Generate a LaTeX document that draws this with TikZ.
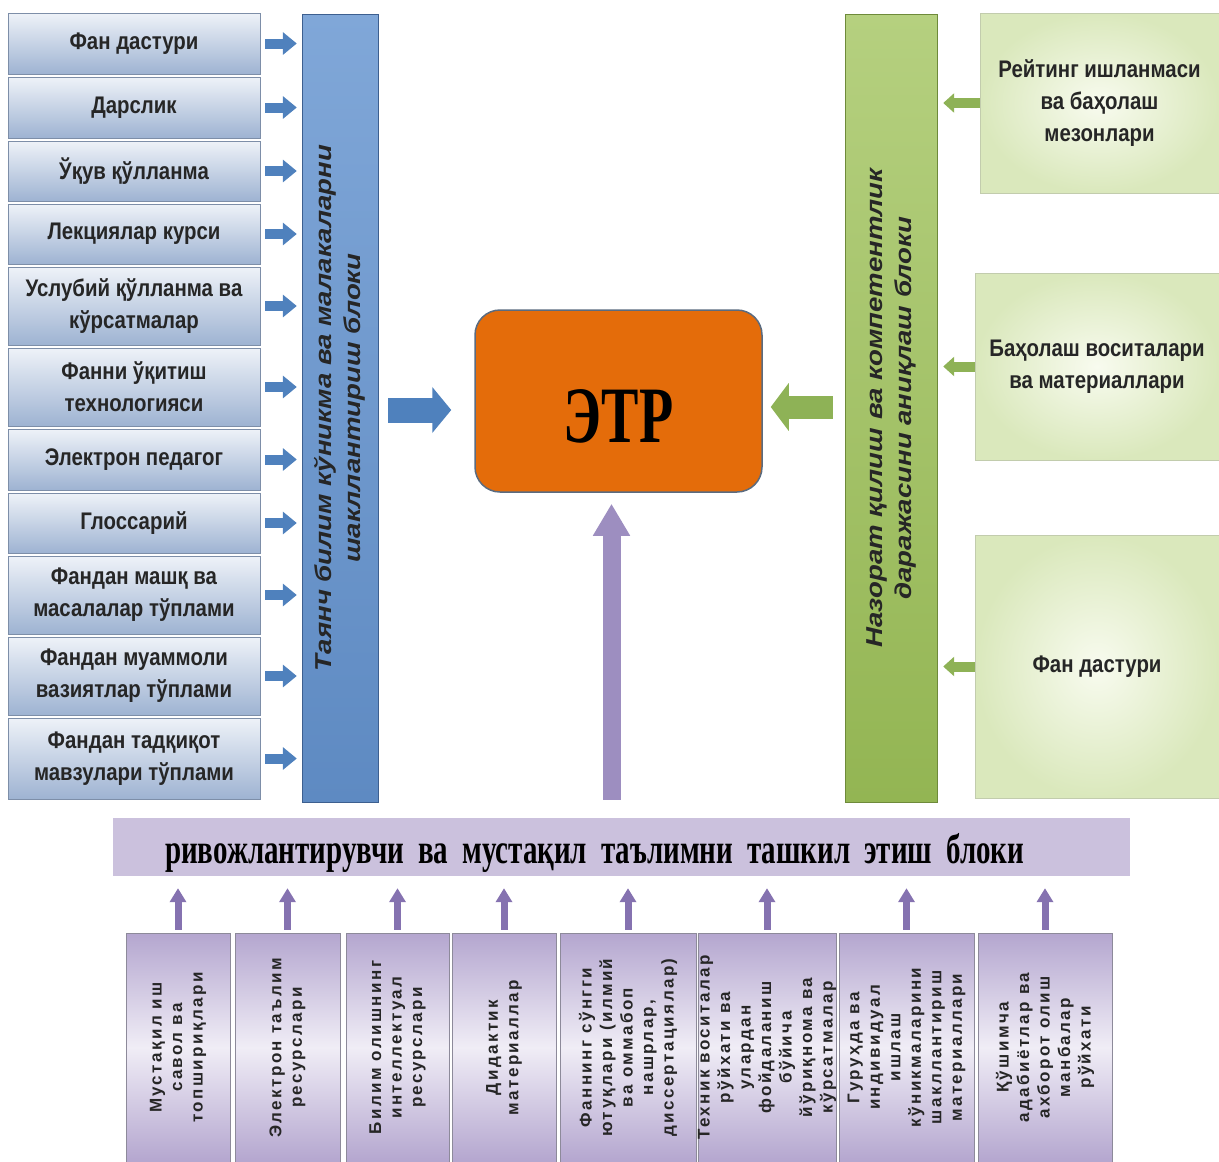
\documentclass[tikz,border=0pt]{standalone}
\usepackage{fontspec}
\setmainfont{Liberation Sans}
\newfontfamily\boxfont[FakeStretch=0.85]{Liberation Sans}
\newfontfamily\barfont[FakeStretch=1.2]{Liberation Sans}
\newfontfamily\smallfont[LetterSpace=14]{Liberation Sans}
\newfontfamily\titlefont[FakeStretch=0.7]{Liberation Serif}
\newfontfamily\blockfont[FakeStretch=0.69]{Liberation Serif}
\usetikzlibrary{arrows.meta}
\definecolor{srctop}{HTML}{EEF2F8}
\definecolor{srcbot}{HTML}{9EB3D2}
\definecolor{srcline}{HTML}{7D8EA8}
\definecolor{bluearr}{HTML}{4F81BD}
\definecolor{bbarlight}{HTML}{80A7D8}
\definecolor{bbardark}{HTML}{5E8AC2}
\definecolor{bbaredge}{HTML}{3D5F8F}
\definecolor{etrfill}{HTML}{E46C0A}
\definecolor{etredge}{HTML}{5A6B80}
\definecolor{gbarlight}{HTML}{B5D07F}
\definecolor{gbardark}{HTML}{93B553}
\definecolor{gbaredge}{HTML}{6E8A3A}
\definecolor{greenarr}{HTML}{8EB256}
\definecolor{ginner}{HTML}{F8FBEF}
\definecolor{gouter}{HTML}{DAE8BC}
\definecolor{gedge}{HTML}{C2CCAD}
\definecolor{blockfill}{HTML}{CBC1DD}
\definecolor{purplearr}{HTML}{8572B0}
\definecolor{resdark}{HTML}{B4A6CF}
\definecolor{reslight}{HTML}{F0EDF6}
\definecolor{resedge}{HTML}{8D8A9A}

\begin{document}
\begin{tikzpicture}[x=1pt,y=1pt,
    every node/.style={inner sep=0pt, align=center, text=black!85},
    srcbox/.style={minimum width=252pt, top color=srctop, bottom color=srcbot, draw=srcline,
        font=\boxfont\bfseries\fontsize{24}{32}\selectfont},
    evalbox/.style={inner color=ginner, outer color=gouter, draw=gedge,
        font=\boxfont\bfseries\fontsize{24}{32}\selectfont},
    resbox/.style={rotate=90, minimum width=229pt, top color=resdark, bottom color=resdark,
        middle color=reslight, draw=resedge, font=\smallfont\bfseries\fontsize{17}{20.5}\selectfont},
    vbar/.style={rotate=90, minimum width=788pt, font=\barfont\bfseries\itshape\fontsize{23}{29}\selectfont},
    bluesmall/.style={draw=bluearr, line width=10pt, -{Triangle[width=22pt,length=14pt]}, shorten <=5pt, shorten >=5pt},
    greensmall/.style={draw=greenarr, line width=10pt, -{Triangle[width=19pt,length=11pt]}, shorten <=0pt, shorten >=6pt},
    purplesmall/.style={draw=purplearr, line width=7pt, -{Triangle[width=16pt,length=14pt]}, shorten <=3pt, shorten >=12pt}]
    \useasboundingbox (0,0) rectangle (1219,-1162);
    \node[srcbox, minimum height=61pt] (s1) at (134,-43.5) {Фан дастури};
    \node[srcbox, minimum height=61pt] (s2) at (134,-107.5) {Дарслик};
    \node[srcbox, minimum height=60pt] (s3) at (134,-171) {Ўқув қўлланма};
    \node[srcbox, minimum height=60pt] (s4) at (134,-234) {Лекциялар курси};
    \node[srcbox, minimum height=78pt] (s5) at (134,-306) {Услубий қўлланма ва\\кўрсатмалар};
    \node[srcbox, minimum height=78pt] (s6) at (134,-387) {Фанни ўқитиш\\технологияси};
    \node[srcbox, minimum height=61pt] (s7) at (134,-459.5) {Электрон педагог};
    \node[srcbox, minimum height=60pt] (s8) at (134,-523) {Глоссарий};
    \node[srcbox, minimum height=78pt] (s9) at (134,-595) {Фандан машқ ва\\масалалар тўплами};
    \node[srcbox, minimum height=78pt] (s10) at (134,-676) {Фандан муаммоли\\вазиятлар тўплами};
    \node[srcbox, minimum height=81pt] (s11) at (134,-758.5) {Фандан тадқиқот\\мавзулари тўплами};
    \node[vbar, minimum height=76pt, top color=bbarlight, bottom color=bbardark, draw=bbaredge] (bbar) at (340,-408)
        {Таянч билим кўникма ва малакаларни\\шакллантириш блоки};
    \node[vbar, minimum height=92pt, top color=gbarlight, bottom color=gbardark, draw=gbaredge] (gbar) at (891,-408)
        {Назорат қилиш ва компетентлик\\даражасини аниқлаш блоки};
    \node[minimum width=287pt, minimum height=182pt, rounded corners=25pt, fill=etrfill, draw=etredge, line width=1.5pt,
        text height=83pt, font=\titlefont\bfseries\fontsize{80}{80}\selectfont, text=black] (etr) at (618.5,-401) {ЭТР};
    \node[evalbox, minimum width=239pt, minimum height=180pt] (e1) at (1099.5,-103) {Рейтинг ишланмаси\\ва баҳолаш\\мезонлари};
    \node[evalbox, minimum width=244pt, minimum height=187pt] (e2) at (1097,-366.5) {Баҳолаш воситалари\\ва материаллари};
    \node[evalbox, minimum width=244pt, minimum height=263pt] (e3) at (1097,-666.5) {Фан дастури};
    \node[minimum width=1017pt, minimum height=58pt, fill=blockfill, text width=913pt, align=left,
        text height=41pt, text depth=9pt, font=\blockfont\bfseries\fontsize{42}{42}\selectfont, text=black] (block) at (621.5,-847)
        {\mbox{ривожлантирувчи ва мустақил таълимни ташкил этиш блоки}};
    \node[resbox, minimum height=104pt] (r1) at (178,-1047.5) {Мустақил иш\\савол ва\\топшириқлари};
    \node[resbox, minimum height=105pt] (r2) at (287.5,-1047.5) {Электрон таълим\\ресурслари};
    \node[resbox, minimum height=103pt] (r3) at (397.5,-1047.5) {Билим олишнинг\\интеллектуал\\ресурслари};
    \node[resbox, minimum height=104pt] (r4) at (504,-1047.5) {Дидактик\\материаллар};
    \node[resbox, minimum height=136pt] (r5) at (628,-1047.5) {Фаннинг сўнгги\\ютуқлари (илмий\\ва оммабоп\\нашрлар,\\диссертациялар)};
    \node[resbox, minimum height=136pt] (r6) at (767,-1047.5) {Техник воситалар\\рўйхати ва\\улардан\\фойдаланиш\\бўйича\\йўриқнома ва\\кўрсатмалар};
    \node[resbox, minimum height=135pt] (r7) at (906.5,-1047.5) {Гуруҳда ва\\индивидуал\\ишлаш\\кўникмаларини\\шакллантириш\\материаллари};
    \node[resbox, minimum height=134pt] (r8) at (1045,-1047.5) {Қўшимча\\адабиётлар ва\\ахборот олиш\\манбалар\\рўйхати};
    \draw[bluesmall] (s1.east) -- (s1.east -| bbar.north);
    \draw[bluesmall] (s2.east) -- (s2.east -| bbar.north);
    \draw[bluesmall] (s3.east) -- (s3.east -| bbar.north);
    \draw[bluesmall] (s4.east) -- (s4.east -| bbar.north);
    \draw[bluesmall] (s5.east) -- (s5.east -| bbar.north);
    \draw[bluesmall] (s6.east) -- (s6.east -| bbar.north);
    \draw[bluesmall] (s7.east) -- (s7.east -| bbar.north);
    \draw[bluesmall] (s8.east) -- (s8.east -| bbar.north);
    \draw[bluesmall] (s9.east) -- (s9.east -| bbar.north);
    \draw[bluesmall] (s10.east) -- (s10.east -| bbar.north);
    \draw[bluesmall] (s11.east) -- (s11.east -| bbar.north);
    \draw[greensmall] (e1.west) -- (e1.west -| gbar.south);
    \draw[greensmall] (e2.west) -- (e2.west -| gbar.south);
    \draw[greensmall] (e3.west) -- (e3.west -| gbar.south);
    \draw[draw=bluearr, line width=25pt, -{Triangle[width=45pt,length=19pt]}, shorten <=10pt, shorten >=23pt]
        ([yshift=-9pt]etr.west -| bbar.south) -- ([yshift=-9pt]etr.west);
    \draw[draw=greenarr, line width=23pt, -{Triangle[width=47pt,length=18pt]}, shorten <=12pt, shorten >=8pt]
        ([yshift=-6pt]etr.east -| gbar.north) -- ([yshift=-6pt]etr.east);
    \draw[draw=purplearr!80, line width=18pt, -{Triangle[width=35pt,length=32pt]}, shorten <=18pt, shorten >=11pt]
        ([xshift=-7pt]etr.south |- block.north) -- ([xshift=-7pt]etr.south);
    \draw[purplesmall] (r1.east) -- (r1.east |- block.south);
    \draw[purplesmall] (r2.east) -- (r2.east |- block.south);
    \draw[purplesmall] (r3.east) -- (r3.east |- block.south);
    \draw[purplesmall] (r4.east) -- (r4.east |- block.south);
    \draw[purplesmall] (r5.east) -- (r5.east |- block.south);
    \draw[purplesmall] (r6.east) -- (r6.east |- block.south);
    \draw[purplesmall] (r7.east) -- (r7.east |- block.south);
    \draw[purplesmall] (r8.east) -- (r8.east |- block.south);
\end{tikzpicture}
\end{document}
